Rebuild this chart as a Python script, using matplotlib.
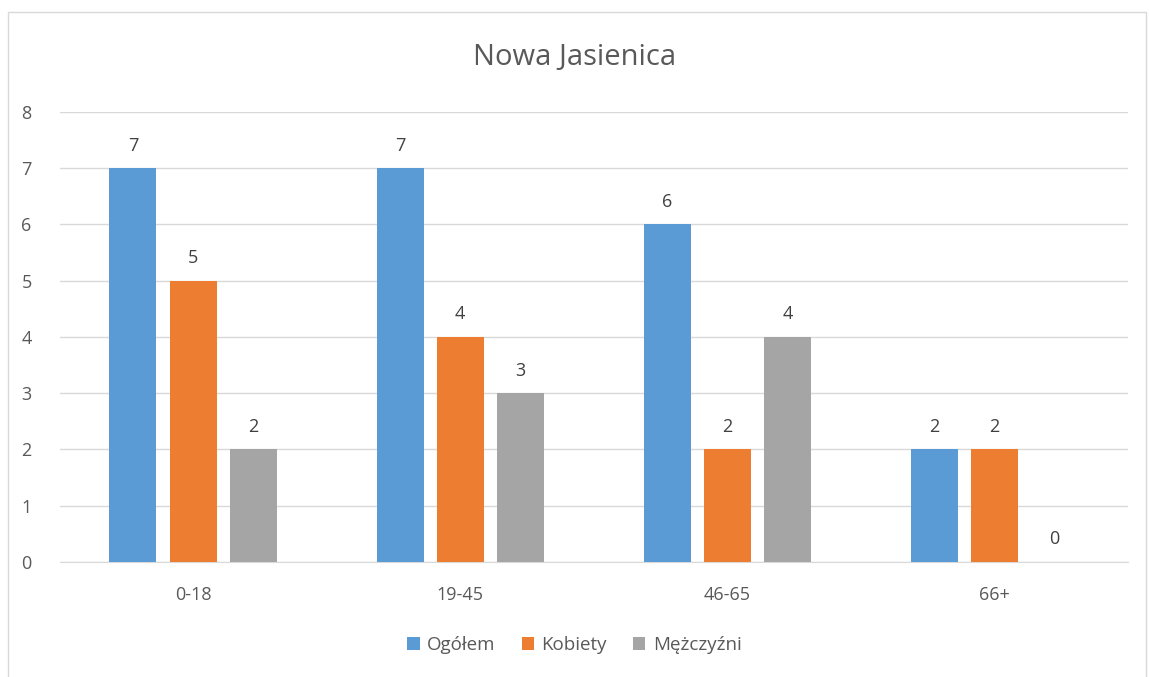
import matplotlib.pyplot as plt
import numpy as np
from matplotlib.patches import Rectangle

categories = ["0-18", "19-45", "46-65", "66+"]
ogolem = [7, 7, 6, 2]
kobiety = [5, 4, 2, 2]
mezczyzni = [2, 3, 4, 0]
series_names = ["Ogółem", "Kobiety", "Mężczyźni"]
colors = ["#5B9BD5", "#ED7D31", "#A5A5A5"]
text_col = "#595959"

plt.rcParams["font.family"] = ["Open Sans", "DejaVu Sans"]

fig = plt.figure(figsize=(11.49, 6.77), dpi=100)
ax = fig.add_axes([0.0518, 0.1699, 0.930, 0.6647])

# outer chart border
fig.patches.append(Rectangle((8 / 1149, -0.05), 1138 / 1149, 1 - 12 / 677 + 0.05,
                             transform=fig.transFigure, fill=False,
                             edgecolor="#D9D9D9", linewidth=1))

x = np.arange(len(categories))
width = 0.176
step = 0.225
for i, (vals, name) in enumerate(zip([ogolem, kobiety, mezczyzni], series_names)):
    pos = x + (i - 1) * step
    ax.bar(pos, vals, width, color=colors[i], label=name, zorder=3)
    for p, v in zip(pos, vals):
        ax.text(p, v + 0.24, str(v), ha="center", va="bottom", fontsize=13, color="#404040")

ax.set_xlim(-0.5, 3.5)
ax.set_ylim(0, 8)
ax.set_yticks(range(0, 9))
ax.set_xticks(x)
ax.set_xticklabels(categories)
ax.grid(axis="y", color="#D9D9D9", linewidth=1, zorder=0)
for s in ["top", "right", "left"]:
    ax.spines[s].set_visible(False)
ax.spines["bottom"].set_color("#D9D9D9")
ax.tick_params(length=0, labelsize=13, labelcolor=text_col)
ax.tick_params(axis="y", pad=20)
ax.tick_params(axis="x", pad=17)

fig.text(0.5, 1 - 57 / 677, "Nowa Jasienica", ha="center", va="center",
         fontsize=21, color=text_col)

fig.legend(loc="center", bbox_to_anchor=(0.5, 1 - 645 / 677), ncol=3, frameon=False,
           fontsize=13.5, handlelength=0.65, handleheight=0.65, columnspacing=1.4,
           handletextpad=0.4, labelcolor=text_col)

fig.savefig("out.png", dpi=100)
